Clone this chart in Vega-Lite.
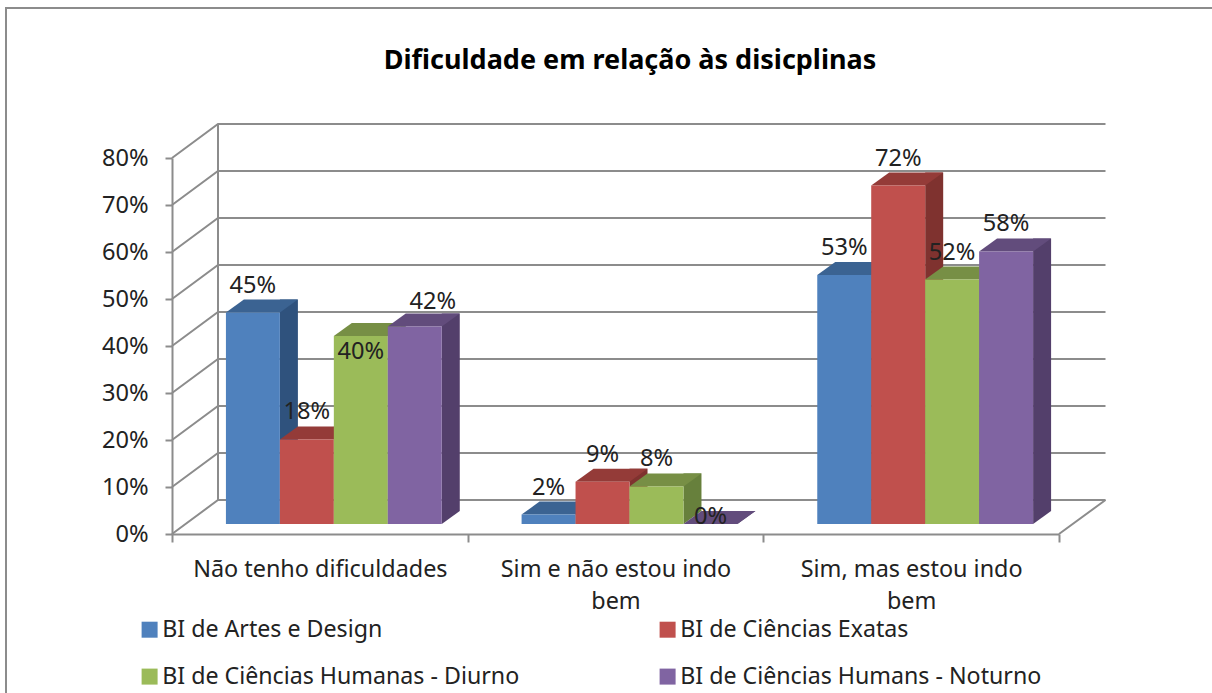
{
"$schema":"https://vega.github.io/schema/vega-lite/v6.json",
"width":1212,"height":693,"padding":0,"autosize":{"type":"none"},
"background":"white",
"config":{"view":{"stroke":null},"font":"Noto Sans"},
"title":{"text":"Dificuldade em relação às disicplinas","font":"Noto Sans","fontSize":27,"fontWeight":"bold","color":"#000000","anchor":"middle","frame":"group","dx":24,"dy":88,"baseline":"middle","offset":0},
"datasets":{
"grid":[{"tick":0},{"tick":0.1},{"tick":0.2},{"tick":0.3},{"tick":0.4},{"tick":0.5},{"tick":0.6},{"tick":0.7},{"tick":0.8}],
"bars":[
{"cat":"Não tenho dificuldades","series":"BI de Artes e Design","value":0.45},
{"cat":"Não tenho dificuldades","series":"BI de Ciências Exatas","value":0.18},
{"cat":"Não tenho dificuldades","series":"BI de Ciências Humanas - Diurno","value":0.40},
{"cat":"Não tenho dificuldades","series":"BI de Ciências Humans - Noturno","value":0.42},
{"cat":"Sim e não estou indo bem","series":"BI de Artes e Design","value":0.02},
{"cat":"Sim e não estou indo bem","series":"BI de Ciências Exatas","value":0.09},
{"cat":"Sim e não estou indo bem","series":"BI de Ciências Humanas - Diurno","value":0.08},
{"cat":"Sim e não estou indo bem","series":"BI de Ciências Humans - Noturno","value":0},
{"cat":"Sim, mas estou indo bem","series":"BI de Artes e Design","value":0.53},
{"cat":"Sim, mas estou indo bem","series":"BI de Ciências Exatas","value":0.72},
{"cat":"Sim, mas estou indo bem","series":"BI de Ciências Humanas - Diurno","value":0.52},
{"cat":"Sim, mas estou indo bem","series":"BI de Ciências Humans - Noturno","value":0.58}
]},
"resolve":{"scale":{"x":"independent","y":"independent","color":"independent","xOffset":"independent"},"axis":{"x":"independent","y":"independent"}},
"layer":[
{"data":{"name":"grid"},
 "mark":{"type":"point","filled":false,"size":4,"stroke":"#8c8c8c","strokeWidth":2,"opacity":1,"shape":"M-443.5,0L-397.5,-34L490,-34"},
 "encoding":{
  "x":{"datum":"Sim e não estou indo bem","type":"nominal","title":null,
    "scale":{"type":"band","domain":["Não tenho dificuldades","Sim e não estou indo bem","Sim, mas estou indo bem"],"range":[172,1059],"paddingInner":0,"paddingOuter":0},
    "axis":{"orient":"bottom","offset":-159,"labelAngle":0,"labelFont":"Noto Sans","labelFontSize":23.4,"labelColor":"#222222","labelLimit":0,"labelPadding":27,"labelLineHeight":32,"labelBaseline":"middle","domainColor":"#8c8c8c","domainWidth":2,"tickColor":"#8c8c8c","tickWidth":2,"tickSize":8,"tickBand":"extent",
      "labelExpr":"indexof(datum.label,'bem')>0?[slice(datum.label,0,-4),'bem']:datum.label"}},
  "y":{"field":"tick","type":"quantitative","title":null,
    "scale":{"domain":[0,0.8],"range":[534,158],"nice":false,"zero":false},
    "axis":{"orient":"left","offset":-172,"values":[0,0.1,0.2,0.3,0.4,0.5,0.6,0.7,0.8],"format":".0%","labelFont":"Noto Sans","labelFontSize":23.6,"labelColor":"#222222","labelPadding":17,"domainColor":"#8c8c8c","domainWidth":2,"tickColor":"#8c8c8c","tickWidth":2,"tickSize":7,"grid":false}}
 }},
{"data":{"name":"grid"},"transform":[{"filter":"datum.tick==0.8"}],
 "mark":{"type":"point","filled":false,"size":4,"stroke":"#8c8c8c","strokeWidth":2,"opacity":1,"shape":"M-609.5,535L-609.5,-150L597,-150M-397.5,-34L-397.5,342M443.5,376L490,342"},
 "encoding":{
  "x":{"datum":"Sim e não estou indo bem","type":"nominal","axis":null,
    "scale":{"type":"band","domain":["Não tenho dificuldades","Sim e não estou indo bem","Sim, mas estou indo bem"],"range":[172,1059],"paddingInner":0,"paddingOuter":0}},
  "y":{"field":"tick","type":"quantitative","axis":null,"scale":{"domain":[0,0.8],"range":[534,158],"nice":false,"zero":false}}
 }},
{"data":{"name":"bars"},
 "mark":{"type":"bar","width":18},
 "encoding":{
  "x":{"field":"cat","type":"nominal","axis":null,"scale":{"type":"band","domain":["Não tenho dificuldades","Sim e não estou indo bem","Sim, mas estou indo bem"],"range":[222,1109],"paddingInner":0,"paddingOuter":0}},
  "xOffset":{"field":"series","type":"nominal","scale":{"type":"band","paddingOuter":0.74,"paddingInner":0}},
  "y":{"field":"value","type":"quantitative","axis":null,"scale":{"domain":[0,0.8],"range":[511,135],"nice":false,"zero":false}},
  "y2":{"datum":0},
  "color":{"field":"series","type":"nominal","legend":null,"scale":{"range":["#2f527d","#7f322f","#67803c","#533f6b"]}}
 }},
{"data":{"name":"bars"},
 "mark":{"type":"point","filled":true,"size":4,"opacity":1,"shape":"M27,0L27,-13L45,-13Z"},
 "encoding":{
  "x":{"field":"cat","type":"nominal","axis":null,"scale":{"type":"band","domain":["Não tenho dificuldades","Sim e não estou indo bem","Sim, mas estou indo bem"],"range":[186,1073],"paddingInner":0,"paddingOuter":0}},
  "xOffset":{"field":"series","type":"nominal","scale":{"type":"band","paddingOuter":0.74,"paddingInner":0}},
  "y":{"datum":0,"type":"quantitative","axis":null,"scale":{"domain":[0,0.8],"range":[524,148],"nice":false,"zero":false}},
  "color":{"field":"series","type":"nominal","legend":null,"scale":{"range":["#2f527d","#7f322f","#67803c","#533f6b"]}}
 }},
{"data":{"name":"bars"},
 "mark":{"type":"point","filled":true,"size":4,"opacity":1,"shape":"M-27,0L27,0L45,-13L-9,-13Z"},
 "encoding":{
  "x":{"field":"cat","type":"nominal","axis":null,"scale":{"type":"band","domain":["Não tenho dificuldades","Sim e não estou indo bem","Sim, mas estou indo bem"],"range":[186,1073],"paddingInner":0,"paddingOuter":0}},
  "xOffset":{"field":"series","type":"nominal","scale":{"type":"band","paddingOuter":0.74,"paddingInner":0}},
  "y":{"field":"value","type":"quantitative","axis":null,"scale":{"domain":[0,0.8],"range":[524,148],"nice":false,"zero":false}},
  "color":{"field":"series","type":"nominal","legend":null,"scale":{"range":["#3b6392","#943b38","#778f45","#624c7c"]}}
 }},
{"data":{"name":"bars"},
 "mark":{"type":"bar"},
 "encoding":{
  "x":{"field":"cat","type":"nominal","axis":null,"scale":{"type":"band","domain":["Não tenho dificuldades","Sim e não estou indo bem","Sim, mas estou indo bem"],"range":[186,1073],"paddingInner":0,"paddingOuter":0}},
  "xOffset":{"field":"series","type":"nominal","scale":{"type":"band","paddingOuter":0.74,"paddingInner":0}},
  "y":{"field":"value","type":"quantitative","axis":null,"scale":{"domain":[0,0.8],"range":[524,148],"nice":false,"zero":false}},
  "y2":{"datum":0},
  "color":{"field":"series","type":"nominal","title":null,"scale":{"range":["#4f81bd","#c0504d","#9bbb59","#8064a2"]},
    "legend":{"orient":"none","direction":"horizontal","legendX":138,"legendY":618,"columns":2,"columnPadding":132,"rowPadding":23,"symbolType":"square","symbolSize":256,"symbolStrokeWidth":0,"labelFont":"Noto Sans","labelFontSize":23.2,"labelColor":"#222222","labelLimit":0,"labelOffset":1,"gridAlign":"all"}}
 }},
{"data":{"name":"bars"},"transform":[{"filter":"datum.value!=0.4 && datum.value!=0.42 && datum.value!=0"}],
 "mark":{"type":"text","font":"Noto Sans","fontSize":23.6,"color":"#222222","dy":-27},
 "encoding":{
  "x":{"field":"cat","type":"nominal","axis":null,"scale":{"type":"band","domain":["Não tenho dificuldades","Sim e não estou indo bem","Sim, mas estou indo bem"],"range":[186,1073],"paddingInner":0,"paddingOuter":0}},
  "xOffset":{"field":"series","type":"nominal","scale":{"type":"band","domain":["BI de Artes e Design","BI de Ciências Exatas","BI de Ciências Humanas - Diurno","BI de Ciências Humans - Noturno"],"paddingOuter":0.74,"paddingInner":0}},
  "y":{"field":"value","type":"quantitative","axis":null,"scale":{"domain":[0,0.8],"range":[524,148],"nice":false,"zero":false}},
  "text":{"field":"value","type":"quantitative","format":".0%"}
 }},
{"data":{"name":"bars"},"transform":[{"filter":"datum.value==0.4"}],
 "mark":{"type":"text","font":"Noto Sans","fontSize":23.6,"color":"#222222","dy":16},
 "encoding":{
  "x":{"field":"cat","type":"nominal","axis":null,"scale":{"type":"band","domain":["Não tenho dificuldades","Sim e não estou indo bem","Sim, mas estou indo bem"],"range":[186,1073],"paddingInner":0,"paddingOuter":0}},
  "xOffset":{"field":"series","type":"nominal","scale":{"type":"band","domain":["BI de Artes e Design","BI de Ciências Exatas","BI de Ciências Humanas - Diurno","BI de Ciências Humans - Noturno"],"paddingOuter":0.74,"paddingInner":0}},
  "y":{"field":"value","type":"quantitative","axis":null,"scale":{"domain":[0,0.8],"range":[524,148],"nice":false,"zero":false}},
  "text":{"field":"value","type":"quantitative","format":".0%"}
 }},
{"data":{"name":"bars"},"transform":[{"filter":"datum.value==0.42"}],
 "mark":{"type":"text","font":"Noto Sans","fontSize":23.6,"color":"#222222","dx":18,"dy":-25},
 "encoding":{
  "x":{"field":"cat","type":"nominal","axis":null,"scale":{"type":"band","domain":["Não tenho dificuldades","Sim e não estou indo bem","Sim, mas estou indo bem"],"range":[186,1073],"paddingInner":0,"paddingOuter":0}},
  "xOffset":{"field":"series","type":"nominal","scale":{"type":"band","domain":["BI de Artes e Design","BI de Ciências Exatas","BI de Ciências Humanas - Diurno","BI de Ciências Humans - Noturno"],"paddingOuter":0.74,"paddingInner":0}},
  "y":{"field":"value","type":"quantitative","axis":null,"scale":{"domain":[0,0.8],"range":[524,148],"nice":false,"zero":false}},
  "text":{"field":"value","type":"quantitative","format":".0%"}
 }},
{"data":{"name":"bars"},"transform":[{"filter":"datum.value==0"}],
 "mark":{"type":"text","font":"Noto Sans","fontSize":23.6,"color":"#222222","dy":-7},
 "encoding":{
  "x":{"field":"cat","type":"nominal","axis":null,"scale":{"type":"band","domain":["Não tenho dificuldades","Sim e não estou indo bem","Sim, mas estou indo bem"],"range":[186,1073],"paddingInner":0,"paddingOuter":0}},
  "xOffset":{"field":"series","type":"nominal","scale":{"type":"band","domain":["BI de Artes e Design","BI de Ciências Exatas","BI de Ciências Humanas - Diurno","BI de Ciências Humans - Noturno"],"paddingOuter":0.74,"paddingInner":0}},
  "y":{"field":"value","type":"quantitative","axis":null,"scale":{"domain":[0,0.8],"range":[524,148],"nice":false,"zero":false}},
  "text":{"field":"value","type":"quantitative","format":".0%"}
 }}
]}
